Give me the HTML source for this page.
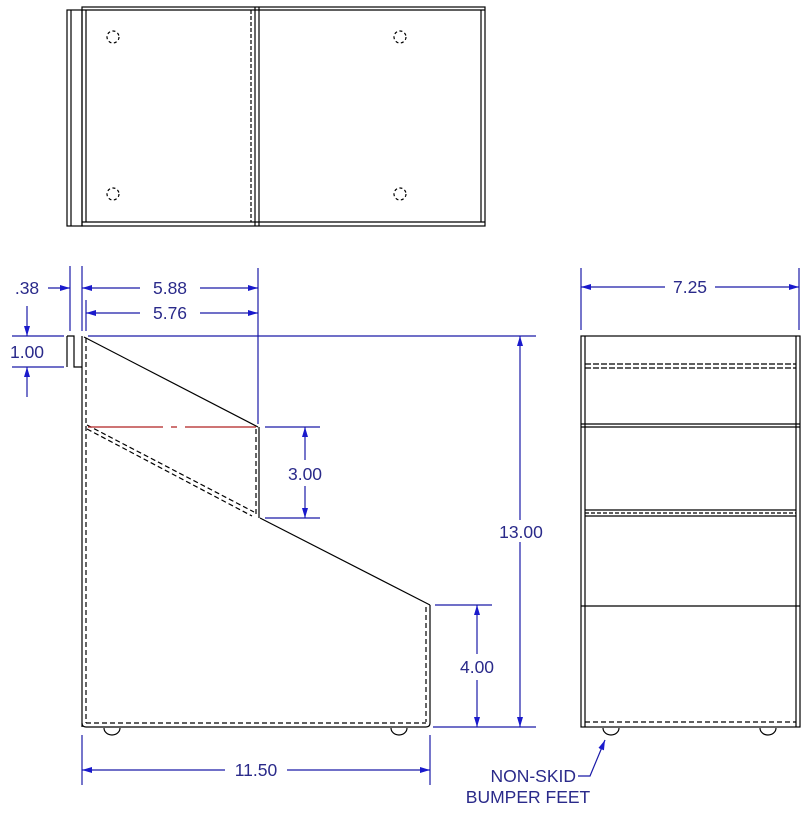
<!DOCTYPE html>
<html><head><style>
html,body{margin:0;padding:0;background:#fff;}
svg{display:block;}
text{font-family:"Liberation Sans",sans-serif;fill:#2a2a8a;font-size:17.5px;}
</style></head><body>
<svg width="812" height="814" viewBox="0 0 812 814" xmlns="http://www.w3.org/2000/svg">
<defs>
<marker id="a" viewBox="0 0 10 6" refX="10" refY="3" markerWidth="10" markerHeight="6" markerUnits="userSpaceOnUse" orient="auto-start-reverse"><path d="M0,0 L10,3 L0,6z" fill="#1a1acc"/></marker>
</defs>
<g fill="none" stroke="#000" stroke-width="1.2">
<rect x="67" y="10" width="15" height="216"/>
<line x1="71" y1="10" x2="71" y2="226"/>
<rect x="82" y="7" width="403" height="219"/>
<line x1="86" y1="10" x2="86" y2="222"/>
<line x1="82" y1="10" x2="485" y2="10"/>
<line x1="82" y1="222" x2="485" y2="222"/>
<line x1="255" y1="7" x2="255" y2="226"/>
<line x1="259" y1="7" x2="259" y2="226"/>
<line x1="251" y1="10" x2="251" y2="222" stroke-dasharray="4,2"/>
<line x1="481" y1="10" x2="481" y2="222"/>
<g stroke-dasharray="3,2.5"><circle cx="113" cy="37" r="6"/><circle cx="113" cy="194" r="6"/><circle cx="400" cy="37" r="6"/><circle cx="400" cy="194" r="6"/></g>
<path d="M67,336 H74 V367 H82"/>
<line x1="67" y1="336" x2="67" y2="367"/>
<line x1="82" y1="336" x2="82" y2="727"/>
<line x1="86" y1="338" x2="86" y2="723" stroke-dasharray="5,3"/>
<line x1="84" y1="337" x2="258" y2="427"/>
<line x1="259" y1="427" x2="259" y2="518"/>
<line x1="256" y1="429" x2="256" y2="514" stroke-dasharray="5,3"/>
<line x1="87" y1="425" x2="254" y2="512" stroke-dasharray="5,3"/>
<line x1="87" y1="429" x2="252" y2="516" stroke-dasharray="5,3"/>
<line x1="260" y1="518" x2="430" y2="605"/>
<line x1="430" y1="605" x2="430" y2="723"/>
<line x1="426" y1="607" x2="426" y2="722" stroke-dasharray="5,3"/>
<path d="M82,723 Q82,727 86,727 H426 Q430,727 430,723"/>
<line x1="86" y1="723" x2="426" y2="723" stroke-dasharray="5,3"/>
<path d="M104,728 A8,7 0 0 0 120,728"/>
<path d="M391,728 A8,7 0 0 0 407,728"/>
<rect x="581" y="336" width="219" height="391"/>
<line x1="585" y1="336" x2="585" y2="727"/>
<line x1="796" y1="336" x2="796" y2="727"/>
<line x1="585" y1="364" x2="796" y2="364" stroke-dasharray="6,2"/>
<line x1="585" y1="368" x2="796" y2="368" stroke-dasharray="6,2"/>
<line x1="581" y1="424" x2="800" y2="424"/>
<line x1="581" y1="427" x2="800" y2="427"/>
<line x1="585" y1="510" x2="796" y2="510"/>
<line x1="585" y1="513" x2="796" y2="513" stroke-dasharray="4,2"/>
<line x1="585" y1="516" x2="796" y2="516"/>
<line x1="581" y1="606" x2="800" y2="606"/>
<line x1="585" y1="722" x2="796" y2="722" stroke-dasharray="5,3"/>
<path d="M603,728 A8,7 0 0 0 619,728"/>
<path d="M760,728 A8,7 0 0 0 776,728"/>
</g>
<line x1="88" y1="427" x2="256" y2="427" stroke="#b02020" stroke-width="1.2" stroke-dasharray="75,8,6,8"/>
<g stroke="#1a1aa8" stroke-width="1.2" fill="none">
<line x1="70" y1="266" x2="70" y2="331"/>
<line x1="82" y1="266" x2="82" y2="331"/>
<line x1="86" y1="300" x2="86" y2="331"/>
<line x1="258" y1="268" x2="258" y2="424"/>
<line x1="48" y1="288" x2="70" y2="288" marker-end="url(#a)"/>
<line x1="82" y1="288" x2="140" y2="288" marker-start="url(#a)"/>
<line x1="200" y1="288" x2="258" y2="288" marker-end="url(#a)"/>
<line x1="86" y1="313" x2="140" y2="313" marker-start="url(#a)"/>
<line x1="200" y1="313" x2="258" y2="313" marker-end="url(#a)"/>
<line x1="12" y1="336" x2="64" y2="336"/>
<line x1="12" y1="367" x2="64" y2="367"/>
<line x1="27" y1="306" x2="27" y2="336" marker-end="url(#a)"/>
<line x1="27" y1="397" x2="27" y2="367" marker-end="url(#a)"/>
<line x1="88" y1="336" x2="536" y2="336"/>
<line x1="433" y1="727" x2="536" y2="727"/>
<line x1="520" y1="336" x2="520" y2="727" marker-start="url(#a)" marker-end="url(#a)"/>
<line x1="265" y1="427" x2="320" y2="427"/>
<line x1="265" y1="518" x2="320" y2="518"/>
<line x1="305" y1="427" x2="305" y2="460" marker-start="url(#a)"/>
<line x1="305" y1="486" x2="305" y2="518" marker-end="url(#a)"/>
<line x1="435" y1="605" x2="492" y2="605"/>
<line x1="477" y1="605" x2="477" y2="654" marker-start="url(#a)"/>
<line x1="477" y1="680" x2="477" y2="727" marker-end="url(#a)"/>
<line x1="82" y1="735" x2="82" y2="785"/>
<line x1="430" y1="735" x2="430" y2="785"/>
<line x1="82" y1="770" x2="225" y2="770" marker-start="url(#a)"/>
<line x1="287" y1="770" x2="430" y2="770" marker-end="url(#a)"/>
<line x1="581" y1="268" x2="581" y2="330"/>
<line x1="799" y1="268" x2="799" y2="330"/>
<line x1="581" y1="287" x2="665" y2="287" marker-start="url(#a)"/>
<line x1="715" y1="287" x2="799" y2="287" marker-end="url(#a)"/>
<polyline points="578,776 590,776 605,740" marker-end="url(#a)"/>
</g>
<rect x="496" y="520" width="50" height="22" fill="#fff"/>
<text x="27" y="294" text-anchor="middle">.38</text>
<text x="170" y="294" text-anchor="middle">5.88</text>
<text x="170" y="319" text-anchor="middle">5.76</text>
<text x="27" y="358" text-anchor="middle">1.00</text>
<text x="305" y="480" text-anchor="middle">3.00</text>
<text x="521" y="538" text-anchor="middle">13.00</text>
<text x="477" y="673" text-anchor="middle">4.00</text>
<text x="256" y="776" text-anchor="middle">11.50</text>
<text x="690" y="293" text-anchor="middle">7.25</text>
<text x="576" y="782" text-anchor="end">NON-SKID</text>
<text x="528" y="803" text-anchor="middle">BUMPER FEET</text>
</svg>
</body></html>
